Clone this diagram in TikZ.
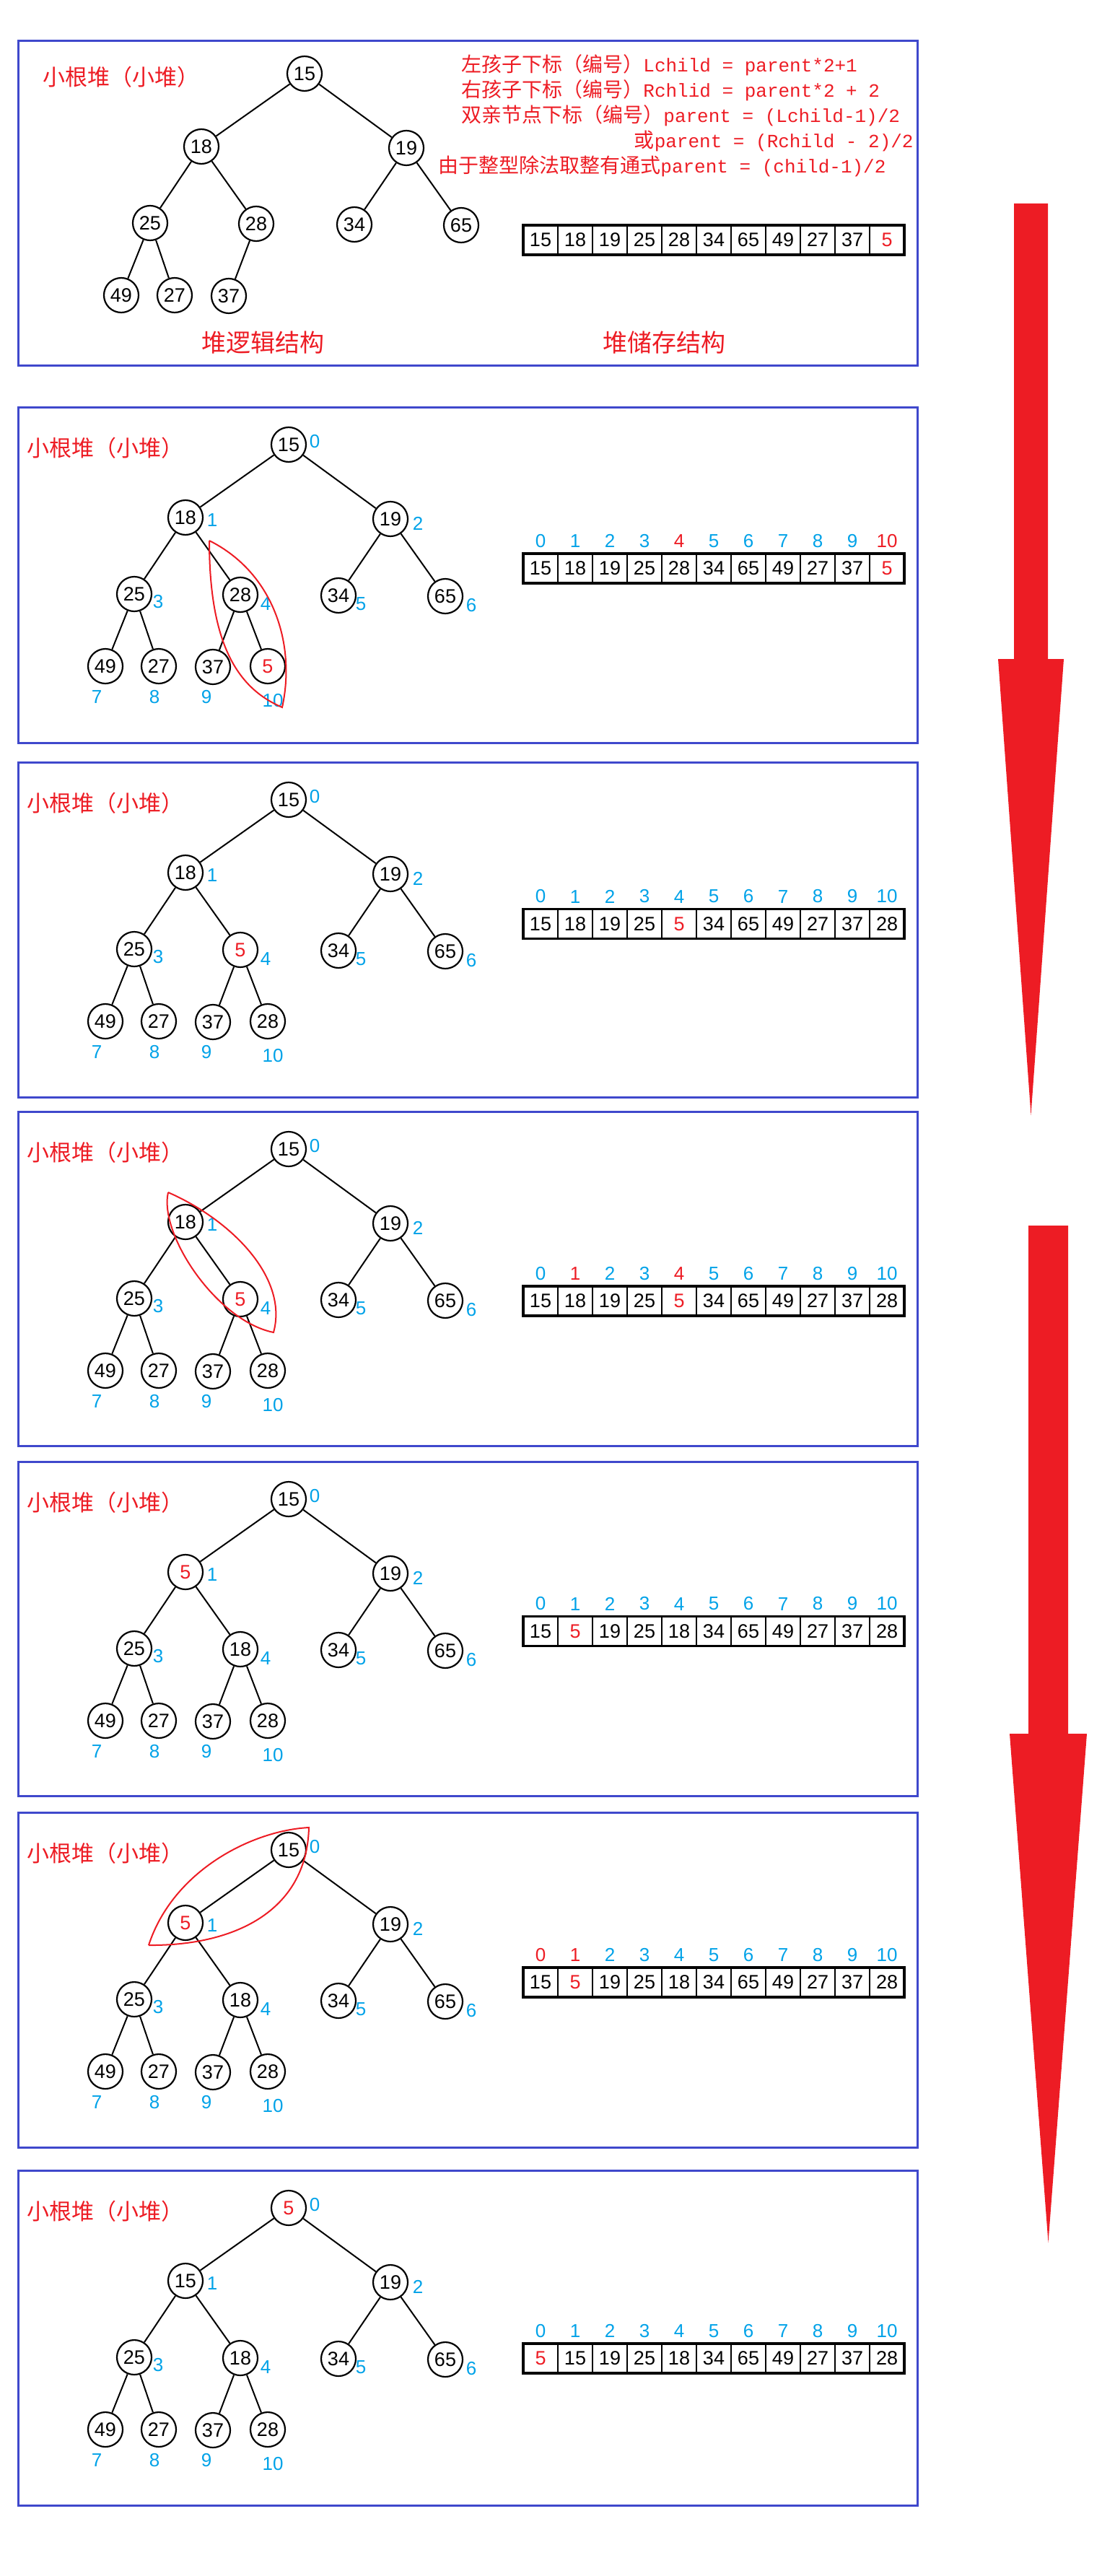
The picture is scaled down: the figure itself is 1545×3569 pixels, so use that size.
\documentclass[tikz,border=0pt]{standalone}
\usepackage{fontspec}
\setmainfont{Liberation Sans}
\newfontfamily\cjkfont{Noto Sans CJK SC}
\newfontfamily\monofont{Liberation Mono}
\usetikzlibrary{positioning,calc}
\definecolor{heapred}{HTML}{ED1C24}
\definecolor{frameblue}{HTML}{3F48CC}
\definecolor{indexblue}{HTML}{00A2E8}

% places of the tree nodes and of their numbers, pixels from the panel top
\def\treex{{400,257,541,186,333,469,617,146,220,295,371}}
\def\treey{{52,153,155,259,260,261,262,359,359,360,359}}
\def\idxx{{436,294,579,219,368,500,653,134,214,286,378}}
\def\idxy{{48,157,161,270,273,273,275,402,402,402,407}}

\tikzset{
  heapnode/.style={circle,draw,line width=1.1pt,minimum size=24pt,inner sep=0pt,
    font=\fontsize{13.5}{13.5}\selectfont},
  treeedge/.style={line width=1pt},
  cell/.style={draw,line width=0.8pt,minimum width=24pt,minimum height=20.5pt,
    inner sep=0pt,outer sep=0pt,font=\fontsize{13.5}{13.5}\selectfont},
  arraybox/.style={line width=1.6pt},
  idx/.style={inner sep=0pt,font=\fontsize{13}{13}\selectfont},
  panelframe/.style={draw=frameblue,line width=1.5pt},
  headline/.style={text=heapred,inner sep=0pt,font=\cjkfont\fontsize{15.5}{15.5}\selectfont},
  formula/.style={text=heapred,inner sep=0pt},
  structlabel/.style={text=heapred,inner sep=0pt,font=\cjkfont\fontsize{17}{17}\selectfont},
  lens/.style={draw=heapred,line width=1pt},
  bigarrow/.style={fill=heapred},
}

\newcommand\rulezh[1]{{\cjkfont\fontsize{14}{14}\selectfont #1}}
\newcommand\rulecode[1]{{\monofont\fontsize{13}{14}\selectfont #1}}

% #1 panel id, #2 values as value/colour
\newcommand\heaptree[2]{%
  \foreach \v/\c [count=\k from 0] in {#2} {
    \pgfmathsetmacro\nx{\treex[\k]}
    \pgfmathsetmacro\ny{\treey[\k]}
    \node[heapnode,text=\c] (n#1-\k) at (\nx,\ny) {\v};
    \ifnum\k>0
      \pgfmathtruncatemacro\pk{(\k-1)/2}
      \draw[treeedge] (n#1-\pk) -- (n#1-\k);
    \fi
  }%
}
% blue numbers next to the tree nodes
\newcommand\treeindex[1]{%
  \foreach \k in {0,...,10} {
    \pgfmathsetmacro\nx{\idxx[\k]}
    \pgfmathsetmacro\ny{\idxy[\k]}
    \node[idx,text=indexblue] (i#1-\k) at (\nx,\ny) {\k};
  }%
}
% #1 panel id, #2 y of the cells, #3 values as value/colour
\newcommand\heaparray[3]{%
  \foreach \v/\c [count=\k from 0] in {#3}
    \node[cell,text=\c] (a#1-\k) at (749+48*\k,#2) {\v};
  \draw[arraybox] (a#1-0.north west) rectangle (a#1-10.south east);
}
% #1 panel id, #2 colours of the numbers over the cells
\newcommand\arrayindex[2]{%
  \foreach \c [count=\k from 0] in {#2}
    \node[idx,text=\c,above=4pt of a#1-\k] (j#1-\k) {\k};
}

\begin{document}
\begin{tikzpicture}[x=0.5pt,y=-0.5pt]
  \useasboundingbox (0,0) rectangle (1545,3569);

  % the two red arrows on the right
  \fill[bigarrow] (1405,282) -- (1452,282) -- (1452,913) -- (1474,913)
    -- (1428.5,1545) -- (1383,913) -- (1405,913) -- cycle;
  \fill[bigarrow] (1425,1698) -- (1480,1698) -- (1480,2402) -- (1506,2402)
    -- (1452.5,3107) -- (1399,2402) -- (1425,2402) -- cycle;

  % panel 1
  \draw[panelframe] (25,57) rectangle (1271,506);
  \begin{scope}[shift={(22,50)}]
    \node[headline] (t1) at (146,57) {小根堆（小堆）};
    \heaptree{1}{15/black,18/black,19/black,25/black,28/black,34/black,65/black,49/black,27/black,37/black}
  \end{scope}
  \heaparray{1}{332.5}{15/black,18/black,19/black,25/black,28/black,34/black,65/black,49/black,27/black,37/black,5/heapred}
  \node[formula,anchor=west] (f1) at (639,90) {\rulezh{左孩子下标（编号）}\rulecode{Lchild = parent*2+1}};
  \node[formula,anchor=west] (f2) at (639,125) {\rulezh{右孩子下标（编号）}\rulecode{Rchlid = parent*2 + 2}};
  \node[formula,anchor=west] (f3) at (639,160) {\rulezh{双亲节点下标（编号）}\rulecode{parent = (Lchild-1)/2}};
  \node[formula,anchor=east] (f4) at (1266,195) {\rulezh{或}\rulecode{parent = (Rchild - 2)/2}};
  \node[formula,anchor=west] (f5) at (607,230) {\rulezh{由于整型除法取整有通式}\rulecode{parent = (child-1)/2}};
  \node[structlabel] (s1) at (364,475) {堆逻辑结构};
  \node[structlabel] (s2) at (920,475) {堆储存结构};

  % panel 2: 5 goes in at the end
  \begin{scope}[shift={(0,564)}]
    \draw[panelframe] (25,0) rectangle (1271,465);
    \node[headline] (t2) at (146,57) {小根堆（小堆）};
    \heaptree{2}{15/black,18/black,19/black,25/black,28/black,34/black,65/black,49/black,27/black,37/black,5/heapred}
    \treeindex{2}
    \heaparray{2}{223.5}{15/black,18/black,19/black,25/black,28/black,34/black,65/black,49/black,27/black,37/black,5/heapred}
    \arrayindex{2}{indexblue,indexblue,indexblue,indexblue,heapred,indexblue,indexblue,indexblue,indexblue,indexblue,heapred}
    \draw[lens] (290,185) .. controls (290,330) and (330,390) .. (391,416)
      .. controls (410,330) and (380,230) .. (290,185);
  \end{scope}

  % panel 3
  \begin{scope}[shift={(0,1056)}]
    \draw[panelframe] (25,0) rectangle (1271,464);
    \node[headline] (t3) at (146,57) {小根堆（小堆）};
    \heaptree{3}{15/black,18/black,19/black,25/black,5/heapred,34/black,65/black,49/black,27/black,37/black,28/black}
    \treeindex{3}
    \heaparray{3}{224}{15/black,18/black,19/black,25/black,5/heapred,34/black,65/black,49/black,27/black,37/black,28/black}
    \arrayindex{3}{indexblue,indexblue,indexblue,indexblue,indexblue,indexblue,indexblue,indexblue,indexblue,indexblue,indexblue}
  \end{scope}

  % panel 4
  \begin{scope}[shift={(0,1540)}]
    \draw[panelframe] (25,0) rectangle (1271,463);
    \node[headline] (t4) at (146,57) {小根堆（小堆）};
    \heaptree{4}{15/black,18/black,19/black,25/black,5/heapred,34/black,65/black,49/black,27/black,37/black,28/black}
    \treeindex{4}
    \heaparray{4}{262.5}{15/black,18/black,19/black,25/black,5/heapred,34/black,65/black,49/black,27/black,37/black,28/black}
    \arrayindex{4}{indexblue,heapred,indexblue,indexblue,heapred,indexblue,indexblue,indexblue,indexblue,indexblue,indexblue}
    \draw[lens] (233,112) .. controls (220,170) and (300,290) .. (379,306)
      .. controls (400,230) and (320,150) .. (233,112);
  \end{scope}

  % panel 5
  \begin{scope}[shift={(0,2025)}]
    \draw[panelframe] (25,0) rectangle (1271,463);
    \node[headline] (t5) at (146,57) {小根堆（小堆）};
    \heaptree{5}{15/black,5/heapred,19/black,25/black,18/black,34/black,65/black,49/black,27/black,37/black,28/black}
    \treeindex{5}
    \heaparray{5}{235}{15/black,5/heapred,19/black,25/black,18/black,34/black,65/black,49/black,27/black,37/black,28/black}
    \arrayindex{5}{indexblue,indexblue,indexblue,indexblue,indexblue,indexblue,indexblue,indexblue,indexblue,indexblue,indexblue}
  \end{scope}

  % panel 6
  \begin{scope}[shift={(0,2511)}]
    \draw[panelframe] (25,0) rectangle (1271,464);
    \node[headline] (t6) at (146,57) {小根堆（小堆）};
    \heaptree{6}{15/black,5/heapred,19/black,25/black,18/black,34/black,65/black,49/black,27/black,37/black,28/black}
    \treeindex{6}
    \heaparray{6}{235.5}{15/black,5/heapred,19/black,25/black,18/black,34/black,65/black,49/black,27/black,37/black,28/black}
    \arrayindex{6}{heapred,heapred,indexblue,indexblue,indexblue,indexblue,indexblue,indexblue,indexblue,indexblue,indexblue}
    \draw[lens] (206,184) .. controls (240,80) and (350,25) .. (428,21)
      .. controls (425,140) and (320,185) .. (206,184);
  \end{scope}

  % panel 7: 5 is the root now
  \begin{scope}[shift={(0,3007)}]
    \draw[panelframe] (25,0) rectangle (1271,464);
    \node[headline] (t7) at (146,57) {小根堆（小堆）};
    \heaptree{7}{5/heapred,15/black,19/black,25/black,18/black,34/black,65/black,49/black,27/black,37/black,28/black}
    \treeindex{7}
    \heaparray{7}{260.5}{5/heapred,15/black,19/black,25/black,18/black,34/black,65/black,49/black,27/black,37/black,28/black}
    \arrayindex{7}{indexblue,indexblue,indexblue,indexblue,indexblue,indexblue,indexblue,indexblue,indexblue,indexblue,indexblue}
  \end{scope}
\end{tikzpicture}
\end{document}
